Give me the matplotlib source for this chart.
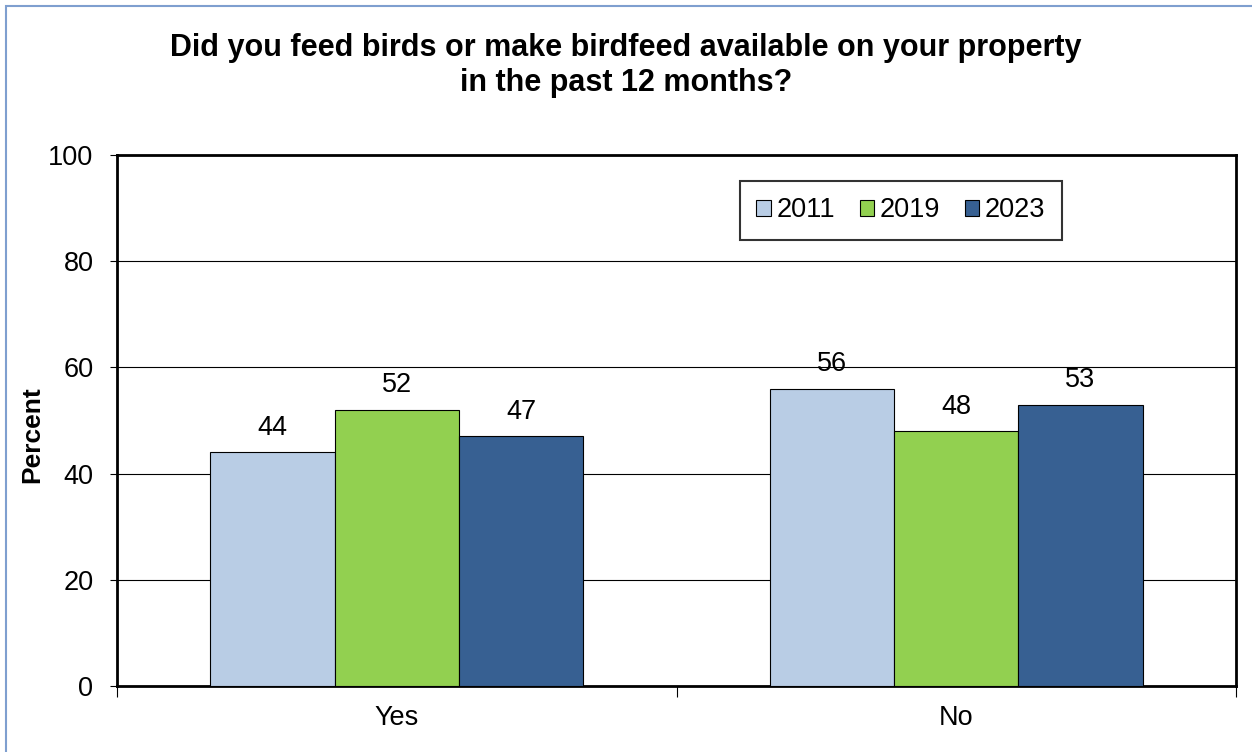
import numpy as np
import matplotlib.pyplot as plt
from matplotlib.patches import Rectangle

plt.rcParams['font.family'] = ['Liberation Sans', 'DejaVu Sans']

# Survey results
categories = ['Yes', 'No']
years = ['2011', '2019', '2023']
values = {
    '2011': [44, 56],
    '2019': [52, 48],
    '2023': [47, 53],
}
colors = ['#B9CDE5', '#92D050', '#376092']

fig = plt.figure(figsize=(12.52, 7.52), dpi=100)
ax = fig.add_axes([117 / 1252, 1 - 686 / 752, (1236 - 117) / 1252, (686 - 155) / 752])

# light blue frame around the chart area
fig.patches.append(Rectangle((6 / 1252, -0.1), 1.2, (752 - 6) / 752 + 0.1,
                             transform=fig.transFigure, fill=False,
                             edgecolor='#7F9FCF', linewidth=1.5))

x = np.arange(len(categories))
width = 0.222
for i, yr in enumerate(years):
    bars = ax.bar(x + (i - 1) * width, values[yr], width, color=colors[i],
                  edgecolor='black', linewidth=0.8, label=yr, zorder=3)
    for b, v in zip(bars, values[yr]):
        ax.text(b.get_x() + b.get_width() / 2, v + 3.3, str(v),
                ha='center', va='baseline', fontsize=19.5)

ax.set_xlim(-0.5, 1.5)
ax.set_ylim(0, 100)
ax.set_yticks(range(0, 101, 20))
ax.yaxis.grid(True, color='black', linewidth=0.8, zorder=0)
ax.set_axisbelow(True)
ax.tick_params(axis='y', labelsize=19.5, length=5, direction='out', width=0.8, pad=12)

# category labels centred, tick marks at the boundaries
ax.set_xticks(x)
ax.set_xticklabels(categories, fontsize=19.5)
ax.tick_params(axis='x', length=0, pad=14)
ax.set_xticks([-0.5, 0.5, 1.5], minor=True)
ax.tick_params(axis='x', which='minor', length=8, direction='out', width=0.8)

for s in ax.spines.values():
    s.set_linewidth(2)
    s.set_color('black')

ax.set_ylabel('Percent', fontsize=19, fontweight='bold')
ax.yaxis.set_label_coords(-0.065, 0.473)
fig.text(0.5, 1 - 33 / 752,
         'Did you feed birds or make birdfeed available on your property\nin the past 12 months?',
         ha='center', va='top', fontsize=22, fontweight='bold', linespacing=1.2)

leg = ax.legend(loc='upper left', bbox_to_anchor=(0.5567, 0.951), ncol=3,
                fontsize=19.5, frameon=True, fancybox=False, edgecolor='black',
                handlelength=0.55, handleheight=0.55, handletextpad=0.2,
                columnspacing=0.9, borderpad=0.6, borderaxespad=0)
leg.get_frame().set_linewidth(1.5)

fig.savefig('out.png', dpi=100)
